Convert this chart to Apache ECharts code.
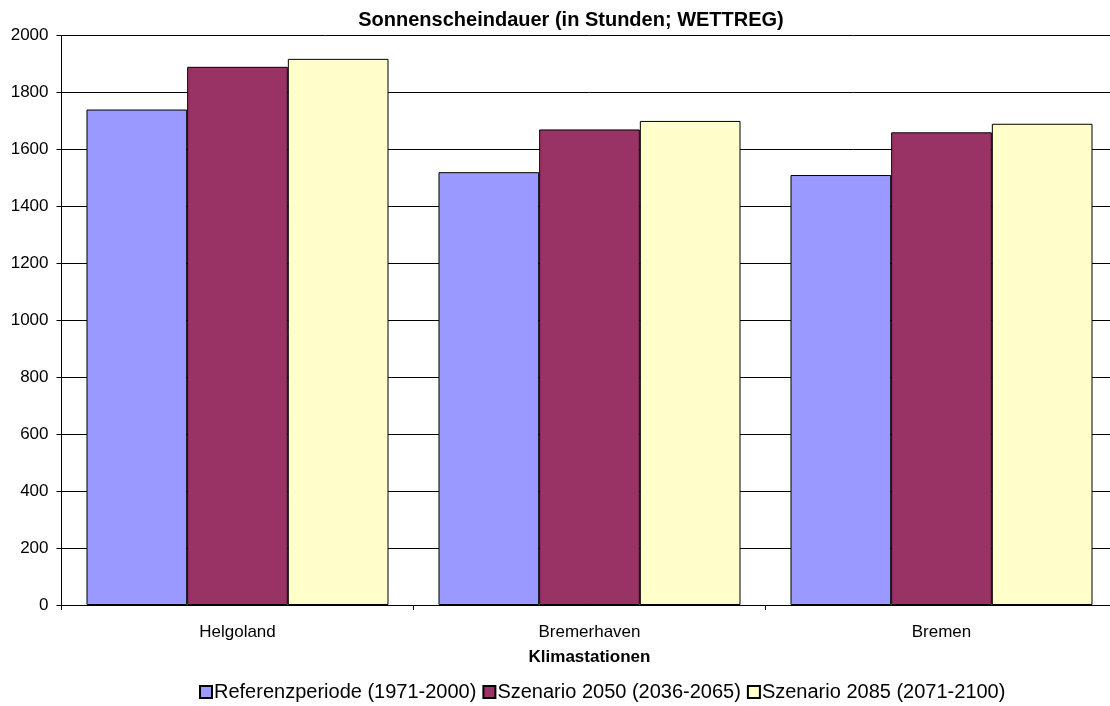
<!DOCTYPE html>
<html>
<head>
<meta charset="utf-8">
<script src="https://cdn.jsdelivr.net/npm/echarts@6/dist/echarts.min.js"></script>
<style>
html,body{margin:0;padding:0;background:#fff;overflow:hidden;width:1110px;height:706px;}
#chart{width:1130px;height:706px;}
</style>
</head>
<body>
<div id="chart"></div>
<script>
const categories = ['Helgoland', 'Bremerhaven', 'Bremen'];
const seriesNames = ['Referenzperiode (1971-2000)', 'Szenario 2050 (2036-2065)', 'Szenario 2085 (2071-2100)'];
const refValues = [1740, 1520, 1510];
const s2050Values = [1890, 1670, 1660];
const s2085Values = [1918, 1700, 1690];
const colors = ['#9999FF', '#993366', '#FFFFCC'];

const FONT = 'Liberation Sans, Arial, sans-serif';
const chart = echarts.init(document.getElementById('chart'));
const dataSets = [refValues, s2050Values, s2085Values];

chart.setOption({
  backgroundColor: '#ffffff',
  animation: false,
  title: {
    text: 'Sonnenscheindauer (in Stunden; WETTREG)',
    left: 566, top: 5,
    textAlign: 'center',
    textStyle: { fontFamily: FONT, fontSize: 20, fontWeight: 'bold', color: '#000' }
  },
  legend: {
    data: seriesNames,
    top: 677,
    left: 194,
    itemWidth: 12, itemHeight: 12, itemGap: 6,
    icon: 'rect',
    textStyle: { fontFamily: FONT, fontSize: 20, color: '#000', padding: [0,0,0,-3] }
  },
  grid: { left: 61.5, top: 35.5, width: 1056, height: 569.5, containLabel: false },
  xAxis: {
    type: 'category',
    data: categories,
    name: 'Klimastationen',
    nameLocation: 'middle',
    nameGap: 44,
    nameTextStyle: { fontFamily: FONT, fontSize: 17, fontWeight: 'bold', color: '#000' },
    axisLine: { lineStyle: { color: '#000', width: 1 } },
    axisTick: { show: true, length: 5, lineStyle: { color: '#000' } },
    axisLabel: { fontFamily: FONT, fontSize: 17, color: '#000', margin: 19 }
  },
  yAxis: {
    type: 'value',
    min: 0, max: 2000, interval: 200,
    axisLine: { show: true, lineStyle: { color: '#000', width: 1 } },
    axisTick: { show: true, length: 5, lineStyle: { color: '#000' } },
    axisLabel: { fontFamily: FONT, fontSize: 17, color: '#000', margin: 13, formatter: v => String(v) },
    splitLine: { show: true, lineStyle: { color: '#000', width: 1 } }
  },
  series: seriesNames.map((n, i) => ({
    name: n,
    type: 'bar',
    data: dataSets[i],
    barGap: '0%',
    barCategoryGap: '14.2%',
    itemStyle: { color: colors[i], borderColor: '#000', borderWidth: 1 }
  }))
});
</script>
</body>
</html>
